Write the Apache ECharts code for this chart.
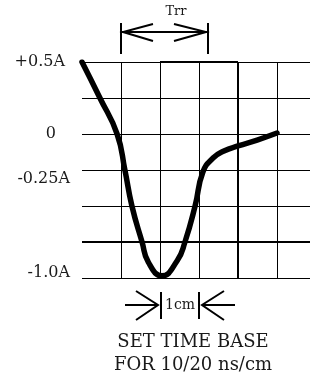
<!DOCTYPE html>
<html>
<head>
<meta charset="utf-8">
<script src="https://cdn.jsdelivr.net/npm/echarts@6/dist/echarts.min.js"></script>
<style>
  html, body { margin: 0; padding: 0; background: #fff; }
  #chart { width: 310px; height: 379px; }
</style>
</head>
<body>
<div id="chart"></div>
<script>
// waveform, x in cm (divisions), y in A
const waveX = [0, 0.46, 0.9, 1.1, 1.28, 1.54, 1.7, 2.05, 2.44, 2.64, 2.9, 3.1, 3.36, 3.64, 4.0, 4.49, 5.0];
const waveY = [0.5, 0.25, 0, -0.25, -0.5, -0.75, -0.89, -0.985, -0.88, -0.75, -0.5, -0.264, -0.167, -0.118, -0.083, -0.042, 0.007];

// y tick labels (only some ticks are labelled)
const tickValues = [0.5, 0, -0.25, -1.0];
const tickLabels = ["+0.5A", "0", "-0.25A", "-1.0A"];
const tickStyles = ["p", "z", "q", "m"];

const FONT = "DejaVu Serif";
const chart = echarts.init(document.getElementById("chart"));

const data = waveX.map((x, i) => [x, waveY[i]]);

chart.setOption({
  animation: false,
  grid: { left: 82, top: 62, right: 0, bottom: 101 },
  xAxis: {
    type: "value",
    min: 0,
    max: 228 / 39,
    interval: 1,
    axisLine: { show: false },
    axisTick: { show: false },
    axisLabel: { show: false },
    splitLine: { show: true, showMinLine: false, showMaxLine: false, lineStyle: { color: "#000", width: 1 } },
  },
  yAxis: {
    type: "value",
    min: -1,
    max: 0.5,
    interval: 0.25,
    axisLine: { show: false },
    axisTick: { show: false },
    splitLine: { show: true, lineStyle: { color: "#000", width: 1 } },
    axisLabel: {
      margin: 12,
      fontFamily: FONT,
      fontSize: 16,
      color: "#1a1a1a",
      formatter: function (v) {
        const i = tickValues.findIndex((t) => Math.abs(t - v) < 1e-6);
        if (i < 0) return "";
        return "{" + tickStyles[i] + "|" + tickLabels[i] + "}";
      },
      rich: {
        p: { fontFamily: FONT, fontSize: 16, color: "#1a1a1a", padding: [0, 5, 0, 0] },
        z: { fontFamily: FONT, fontSize: 16, color: "#1a1a1a", padding: [0, 14, 0, 0] },
        q: { fontFamily: FONT, fontSize: 16, color: "#1a1a1a", padding: [18, 0, 0, 0] },
        m: { fontFamily: FONT, fontSize: 16, color: "#1a1a1a", padding: [0, 0, 10, 0] },
      },
    },
  },
  series: [
    {
      type: "line",
      data: data,
      smooth: 0.5,
      symbol: "none",
      lineStyle: { color: "#000", width: 5.5, cap: "round", join: "round" },
      z: 5,
      markLine: {
        silent: true,
        symbol: "none",
        label: { show: false },
        lineStyle: { color: "#000", width: 2, type: "solid" },
        data: [
          { yAxis: -0.75 },
          { xAxis: 4 },
          [{ coord: [2, 0.5] }, { coord: [4, 0.5] }],
        ],
      },
    },
  ],
  graphic: [
    // Trr arrow
    { type: "polyline", shape: { points: [[121, 23], [121, 54]] }, style: { stroke: "#000", lineWidth: 2 } },
    { type: "polyline", shape: { points: [[208, 23], [208, 54]] }, style: { stroke: "#000", lineWidth: 2 } },
    { type: "polyline", shape: { points: [[121, 32], [208, 32]] }, style: { stroke: "#000", lineWidth: 2 } },
    { type: "polyline", shape: { points: [[153, 24], [123, 32], [153, 41]] }, style: { stroke: "#000", lineWidth: 2, fill: null } },
    { type: "polyline", shape: { points: [[174, 24], [206, 32], [174, 41]] }, style: { stroke: "#000", lineWidth: 2, fill: null } },
    { type: "text", x: 176, y: 12, style: { text: "Trr", font: "13px '" + FONT + "'", fill: "#1a1a1a", align: "center", verticalAlign: "middle" } },
    // 1cm arrows
    { type: "polyline", shape: { points: [[125, 305], [158, 305]] }, style: { stroke: "#000", lineWidth: 2 } },
    { type: "polyline", shape: { points: [[136, 291], [158, 305], [136, 320]] }, style: { stroke: "#000", lineWidth: 2, fill: null } },
    { type: "polyline", shape: { points: [[161, 292], [161, 319]] }, style: { stroke: "#000", lineWidth: 2 } },
    { type: "polyline", shape: { points: [[199, 292], [199, 319]] }, style: { stroke: "#000", lineWidth: 2 } },
    { type: "polyline", shape: { points: [[224, 291], [202, 305], [224, 320]] }, style: { stroke: "#000", lineWidth: 2, fill: null } },
    { type: "polyline", shape: { points: [[202, 305], [235, 305]] }, style: { stroke: "#000", lineWidth: 2 } },
    { type: "text", x: 180, y: 305, style: { text: "1cm", font: "14px '" + FONT + "'", fill: "#1a1a1a", align: "center", verticalAlign: "middle" } },
    // caption
    { type: "text", x: 193, y: 342, style: { text: "SET TIME BASE", font: "18px '" + FONT + "'", fill: "#1a1a1a", align: "center", verticalAlign: "middle" } },
    { type: "text", x: 193, y: 365, style: { text: "FOR 10/20 ns/cm", font: "18px '" + FONT + "'", fill: "#1a1a1a", align: "center", verticalAlign: "middle" } },
  ],
});
</script>
</body>
</html>
